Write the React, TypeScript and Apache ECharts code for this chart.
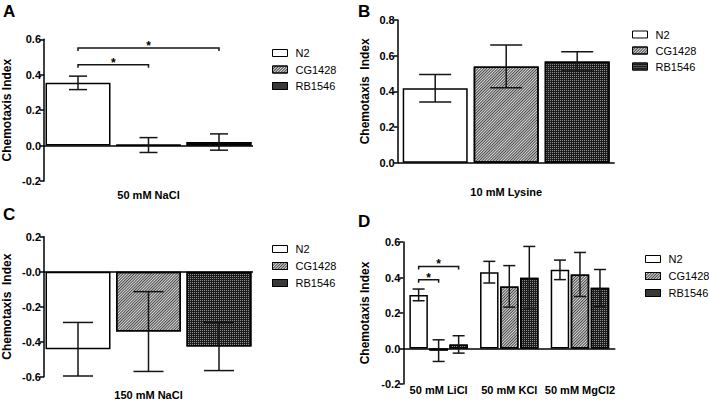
import React, { useEffect, useRef } from 'react';
import * as echarts from 'echarts';

const seriesNames = ['N2', 'CG1428', 'RB1546'];

// Panel A – 50 mM NaCl
const catsA = ['50 mM NaCl'];
const aN2 = [0.354];
const aCG = [0.003];
const aRB = [0.02];
const aN2Sem = [0.038];
const aCGSem = [0.042];
const aRBSem = [0.046];
const yTicksA = ['-0.2', '0.0', '0.2', '0.4', '0.6'];
const bracketsA = [
  [0, 0.457, 0, 1],
  [0, 0.551, 0, 2],
];

// Panel B – 10 mM Lysine
const catsB = ['10 mM Lysine'];
const bN2 = [0.417];
const bCG = [0.54];
const bRB = [0.568];
const bN2Sem = [0.077];
const bCGSem = [0.12];
const bRBSem = [0.054];
const yTicksB = ['0.0', '0.2', '0.4', '0.6', '0.8'];

// Panel C – 150 mM NaCl
const catsC = ['150 mM NaCl'];
const cN2 = [-0.443];
const cCG = [-0.342];
const cRB = [-0.427];
const cN2Sem = [0.153];
const cCGSem = [0.228];
const cRBSem = [0.138];
const yTicksC = ['-0.6', '-0.4', '-0.2', '-0.0', '0.2'];

// Panel D – salts
const catsD = ['50 mM LiCl', '50 mM KCl', '50 mM MgCl2'];
const dN2 = [0.302, 0.43, 0.443];
const dCG = [-0.012, 0.35, 0.417];
const dRB = [0.023, 0.398, 0.342];
const dN2Sem = [0.033, 0.061, 0.055];
const dCGSem = [0.061, 0.117, 0.124];
const dRBSem = [0.049, 0.177, 0.103];
const yTicksD = ['-0.2', '0.0', '0.2', '0.4', '0.6'];
const bracketsD = [
  [0, 0.387, 0, 1],
  [0, 0.462, 0, 2],
];

const FONT = 'Liberation Sans, Arial, Helvetica, sans-serif';

const barStyles = [
  { color: '#ffffff', borderColor: '#000', borderWidth: 1.5 },
  {
    color: '#dcdcdc',
    borderColor: '#000',
    borderWidth: 1.5,
    decal: {
      symbol: 'rect',
      symbolSize: 1,
      color: 'rgba(20,20,20,0.75)',
      dashArrayX: [1, 0],
      dashArrayY: [1, 1],
      rotation: -Math.PI / 4,
    },
  },
  {
    color: '#1c1c1c',
    borderColor: '#000',
    borderWidth: 1.5,
    decal: {
      symbol: 'rect',
      symbolSize: 1,
      color: 'rgba(255,255,255,0.5)',
      dashArrayX: [1, 1],
      dashArrayY: [1, 1],
      rotation: 0,
    },
  },
];

type Panel = {
  grid: any;
  cats: string[];
  means: number[][];
  sems: number[][];
  barWidth: number;
  gap: number;
  cap: number;
  yMin: number;
  yMax: number;
  ticks: string[];
  labelMargin: number;
  nameGap: number;
  yName: string;
  brackets: number[][];
  legend: { left: number; top: number; gap: number };
};

const panels: Panel[] = [
  {
    grid: { left: 40, top: 39.3, width: 213, height: 141.7 },
    cats: catsA,
    means: [aN2, aCG, aRB],
    sems: [aN2Sem, aCGSem, aRBSem],
    barWidth: 65,
    gap: 5.5,
    cap: 9,
    yMin: -0.2,
    yMax: 0.6,
    ticks: yTicksA,
    labelMargin: 8,
    nameGap: 31,
    yName: 'Chemotaxis Index',
    brackets: bracketsA,
    legend: { left: 267, top: 41.5, gap: 3.5 },
  },
  {
    grid: { left: 397.7, top: 20, width: 217, height: 142.7 },
    cats: catsB,
    means: [bN2, bCG, bRB],
    sems: [bN2Sem, bCGSem, bRBSem],
    barWidth: 65,
    gap: 6,
    cap: 16,
    yMin: 0,
    yMax: 0.8,
    ticks: yTicksB,
    labelMargin: 24,
    nameGap: 27,
    yName: 'Chemotaxis  Index',
    brackets: [],
    legend: { left: 627, top: 23, gap: 3 },
  },
  {
    grid: { left: 40, top: 236.7, width: 213, height: 140 },
    cats: catsC,
    means: [cN2, cCG, cRB],
    sems: [cN2Sem, cCGSem, cRBSem],
    barWidth: 65,
    gap: 5.5,
    cap: 15,
    yMin: -0.6,
    yMax: 0.2,
    ticks: yTicksC,
    labelMargin: 13,
    nameGap: 31,
    yName: 'Chemotaxis  Index',
    brackets: [],
    legend: { left: 267, top: 237.5, gap: 4 },
  },
  {
    grid: { left: 403.3, top: 242, width: 212, height: 142 },
    cats: catsD,
    means: [dN2, dCG, dRB],
    sems: [dN2Sem, dCGSem, dRBSem],
    barWidth: 18.5,
    gap: 1.5,
    cap: 6,
    yMin: -0.2,
    yMax: 0.6,
    ticks: yTicksD,
    labelMargin: 0,
    nameGap: 32,
    yName: 'Chemotaxis Index',
    brackets: bracketsD,
    legend: { left: 640, top: 247.5, gap: 4 },
  },
];

const letters = [
  { t: 'A', x: 3, y: 3 },
  { t: 'B', x: 358, y: 3 },
  { t: 'C', x: 3, y: 206 },
  { t: 'D', x: 358, y: 213 },
];

function buildOption() {
  const grids: any[] = [];
  const xAxes: any[] = [];
  const yAxes: any[] = [];
  const legends: any[] = [];
  const series: any[] = [];

  panels.forEach((p, pi) => {
    grids.push({ ...p.grid, containLabel: false });
    xAxes.push({
      type: 'category',
      gridIndex: pi,
      data: p.cats,
      axisLine: { show: false },
      axisTick: { show: false },
      splitLine: { show: false },
      axisLabel: {
        interval: 0,
        margin: p.labelMargin,
        color: '#000',
        fontWeight: 'bold',
        fontSize: 11,
        fontFamily: FONT,
      },
    });
    yAxes.push({
      type: 'value',
      gridIndex: pi,
      min: p.yMin,
      max: p.yMax,
      interval: 0.2,
      name: p.yName,
      nameLocation: 'middle',
      nameRotate: 90,
      nameGap: p.nameGap,
      nameTextStyle: { color: '#000', fontWeight: 'bold', fontSize: 12, fontFamily: FONT },
      axisLine: { show: true, lineStyle: { color: '#000', width: 1.5 } },
      axisTick: { show: true, length: 4, lineStyle: { color: '#000', width: 1.5 } },
      splitLine: { show: false },
      axisLabel: {
        margin: 3,
        color: '#000',
        fontWeight: 'bold',
        fontSize: 11,
        fontFamily: FONT,
        formatter: (v: number) => p.ticks[Math.round((v - p.yMin) / 0.2)] ?? '',
      },
    });
    legends.push({
      orient: 'vertical',
      left: p.legend.left,
      top: p.legend.top,
      itemGap: p.legend.gap,
      itemWidth: 15,
      itemHeight: 7,
      selectedMode: false,
      data: seriesNames.map((n) => ({ name: n, icon: 'rect' })),
      itemStyle: { borderColor: '#000', borderWidth: 1 },
      textStyle: { color: '#000', fontSize: 11, fontFamily: FONT, lineHeight: 13, padding: [0, 0, 0, 3] },
    });

    const offsets = [-(p.barWidth + p.gap), 0, p.barWidth + p.gap];

    seriesNames.forEach((name, si) => {
      const s: any = {
        type: 'bar',
        name,
        xAxisIndex: pi,
        yAxisIndex: pi,
        data: p.means[si],
        barWidth: p.barWidth,
        barGap: (p.gap / p.barWidth) * 100 + '%',
        itemStyle: barStyles[si],
        z: 2,
      };
      if (si === 2) {
        s.markLine = {
          silent: true,
          symbol: ['none', 'none'],
          label: { show: false },
          lineStyle: { color: '#000', width: 1.5, type: 'solid' },
          data: [{ yAxis: 0 }],
          z: 3,
        };
      }
      series.push(s);
    });

    seriesNames.forEach((name, si) => {
      const off = offsets[si];
      series.push({
        type: 'custom',
        name: name + '-err',
        xAxisIndex: pi,
        yAxisIndex: pi,
        z: 5,
        encode: { x: 0, y: 1 },
        data: p.cats.map((_, i) => [i, p.means[si][i], p.sems[si][i]]),
        renderItem: (params: any, api: any) => {
          const cat = api.value(0);
          const m = api.value(1);
          const s = api.value(2);
          const top = api.coord([cat, m + s]);
          const bot = api.coord([cat, m - s]);
          const x = top[0] + off;
          const style = { stroke: '#151515', lineWidth: 1.5 };
          return {
            type: 'group',
            children: [
              { type: 'line', shape: { x1: x, y1: top[1], x2: x, y2: bot[1] }, style },
              { type: 'line', shape: { x1: x - p.cap, y1: top[1], x2: x + p.cap, y2: top[1] }, style },
              { type: 'line', shape: { x1: x - p.cap, y1: bot[1], x2: x + p.cap, y2: bot[1] }, style },
            ],
          };
        },
      });
    });

    if (p.brackets.length) {
      series.push({
        type: 'custom',
        name: 'sig',
        xAxisIndex: pi,
        yAxisIndex: pi,
        z: 6,
        encode: { x: 0, y: 1 },
        data: p.brackets,
        renderItem: (params: any, api: any) => {
          const cat = api.value(0);
          const lvl = api.value(1);
          const from = api.value(2);
          const to = api.value(3);
          const c = api.coord([cat, lvl]);
          const x1 = c[0] + offsets[from];
          const x2 = c[0] + offsets[to];
          const y = c[1];
          return {
            type: 'group',
            children: [
              {
                type: 'polyline',
                shape: { points: [[x1, y + 3], [x1, y], [x2, y], [x2, y + 3]] },
                style: { stroke: '#151515', lineWidth: 1.5, fill: 'none' },
              },
              {
                type: 'text',
                style: {
                  x: (x1 + x2) / 2,
                  y: y - 2,
                  text: '*',
                  align: 'center',
                  verticalAlign: 'middle',
                  font: 'bold 12px ' + FONT,
                  fill: '#000',
                },
              },
            ],
          };
        },
      });
    }
  });

  return {
    animation: false,
    backgroundColor: '#ffffff',
    grid: grids,
    xAxis: xAxes,
    yAxis: yAxes,
    legend: legends,
    series,
    graphic: letters.map((l) => ({
      type: 'text',
      x: l.x,
      y: l.y,
      style: { text: l.t, font: 'bold 17px ' + FONT, fill: '#000', verticalAlign: 'top' },
    })),
  };
}

export default function App() {
  const ref = useRef<HTMLDivElement>(null);
  useEffect(() => {
    document.body.style.margin = '0';
    if (!ref.current) return;
    const chart = echarts.init(ref.current, null, { renderer: 'svg' });
    chart.setOption(buildOption() as any);
    return () => chart.dispose();
  }, []);
  return <div ref={ref} style={{ width: 709, height: 403 }} />;
}
